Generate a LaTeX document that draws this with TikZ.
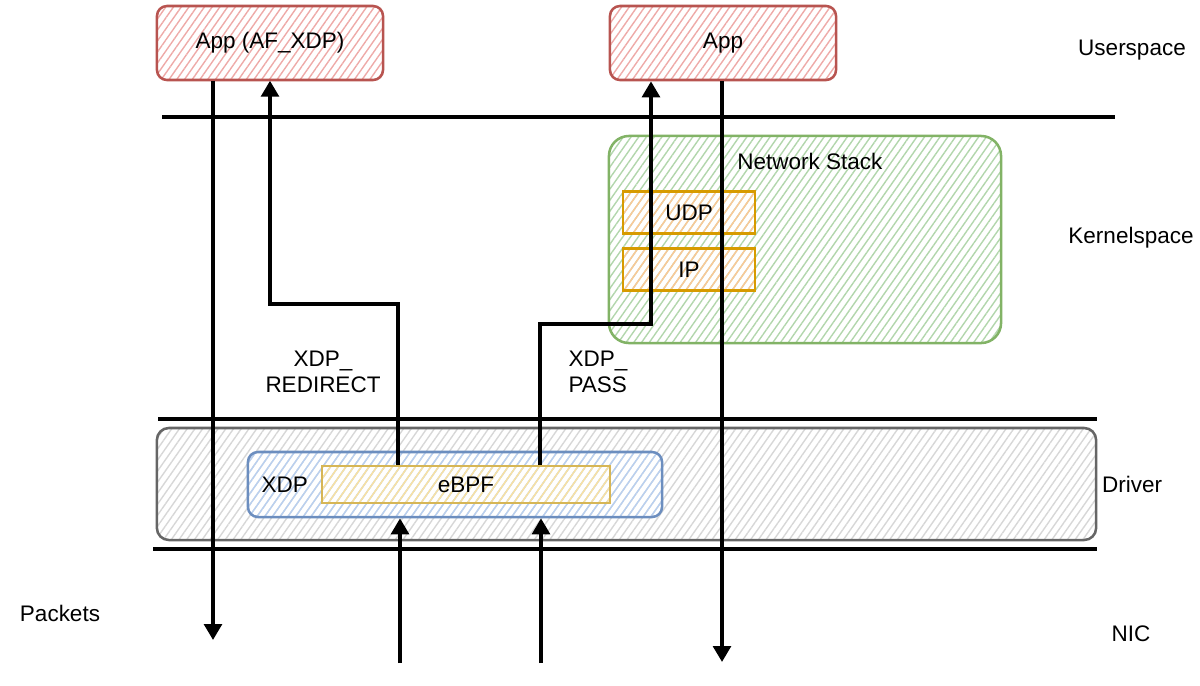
\documentclass[tikz,border=0pt]{standalone}
\usepackage{fontspec}
\setmainfont{Liberation Sans}
\usepackage{xcolor}
\usepackage{tikz}
\usetikzlibrary{arrows.meta,positioning,patterns.meta}
\definecolor{AppLine}{RGB}{184,84,80}
\definecolor{AppFill}{RGB}{238,170,168}
\definecolor{StackLine}{RGB}{130,179,102}
\definecolor{StackFill}{RGB}{178,214,172}
\definecolor{ProtoLine}{RGB}{215,155,0}
\definecolor{ProtoFill}{RGB}{252,200,150}
\definecolor{XdpLine}{RGB}{108,142,191}
\definecolor{XdpFill}{RGB}{185,208,240}
\definecolor{BpfLine}{RGB}{214,182,86}
\definecolor{BpfFill}{RGB}{250,226,160}
\definecolor{DrvLine}{RGB}{102,102,102}
\definecolor{DrvFill}{RGB}{215,215,215}

\begin{document}
\begin{tikzpicture}[
  x=0.025cm, y=-0.025cm,
  font=\fontsize{16}{19}\selectfont,
  hatch/.style={pattern={Lines[angle=55,distance=4.5pt,line width=1pt]}, pattern color=#1},
  box/.style={rounded corners=0.25cm, line width=1.8pt, align=center, inner sep=0pt},
  appbox/.style={box, draw=AppLine, hatch=AppFill, minimum width=5.65cm, minimum height=1.85cm},
  protobox/.style={box, rounded corners=0pt, draw=ProtoLine, hatch=ProtoFill, minimum width=3.3cm, minimum height=1.05cm},
  layer/.style={line width=2.6pt},
  pkt/.style={line width=2.8pt, -{Triangle[length=4mm,width=4.4mm]}}
]
\useasboundingbox (0,0) rectangle (1200,685);

% userspace
\node[appbox] (afxdp) at (270,43) {App (AF\_XDP)};
\node[appbox] (app) at (723,43) {App};

% kernelspace
\node[box, rounded corners=0.5cm, draw=StackLine, hatch=StackFill, minimum width=9.8cm, minimum height=5.175cm,
  label={[anchor=north, yshift=-0.35cm, xshift=0.12cm]north:Network Stack}] (stack) at (805,239.5) {};
\node[protobox] (udp) at (689,212.5) {UDP};
\node[protobox] (ip) at (689,269.5) {IP};

% driver
\node[box, rounded corners=0.3cm, draw=DrvLine, hatch=DrvFill, minimum width=23.475cm, minimum height=2.8cm] (driver) at (626.5,484) {};
\node[box, draw=XdpLine, hatch=XdpFill, minimum width=10.35cm, minimum height=1.625cm,
  label={[anchor=west, xshift=0.25cm]west:XDP}] (xdp) at (455,484.5) {};
\node[box, rounded corners=0pt, draw=BpfLine, hatch=BpfFill, minimum width=7.2cm, minimum height=0.925cm] (ebpf) at (466,484.5) {eBPF};

% layer separators
\draw[layer] (162,117) -- (1115,117);
\draw[layer] (158,419) -- (1097,419);
\draw[layer] (153,549) -- (1097,549);

% layer names
\node (user) at (1132,50) {Userspace};
\node (kernel) at (1131,238) {Kernelspace};
\node (drv) at (1132,484) {Driver};
\node (nic) at (1131,634) {NIC};
\node (packets) at (60,613) {Packets};

% packet paths
\coordinate (out1) at (213,640);
\coordinate (out2) at (722,662);
\coordinate (in1) at (400,663);
\coordinate (in2) at (541,663);
\draw[pkt] (afxdp.south -| out1) -- (out1);
\draw[pkt] (app.south -| out2) -- (out2);
\draw[pkt] (in1) -- (in1 |- xdp.south);
\draw[pkt] (in2) -- (in2 |- xdp.south);
\draw[pkt] ([xshift=-1.7cm]ebpf.north) -- ++(0,-161) -| (afxdp.south);
\draw[pkt] ([xshift=1.85cm]ebpf.north) -- ++(0,-141) -| ([xshift=-1.8cm]app.south);

\node[align=center] (redirect) at (323,372) {XDP\_\\REDIRECT};
\node[align=left] (pass) at (598,372) {XDP\_\\PASS};
\end{tikzpicture}
\end{document}
